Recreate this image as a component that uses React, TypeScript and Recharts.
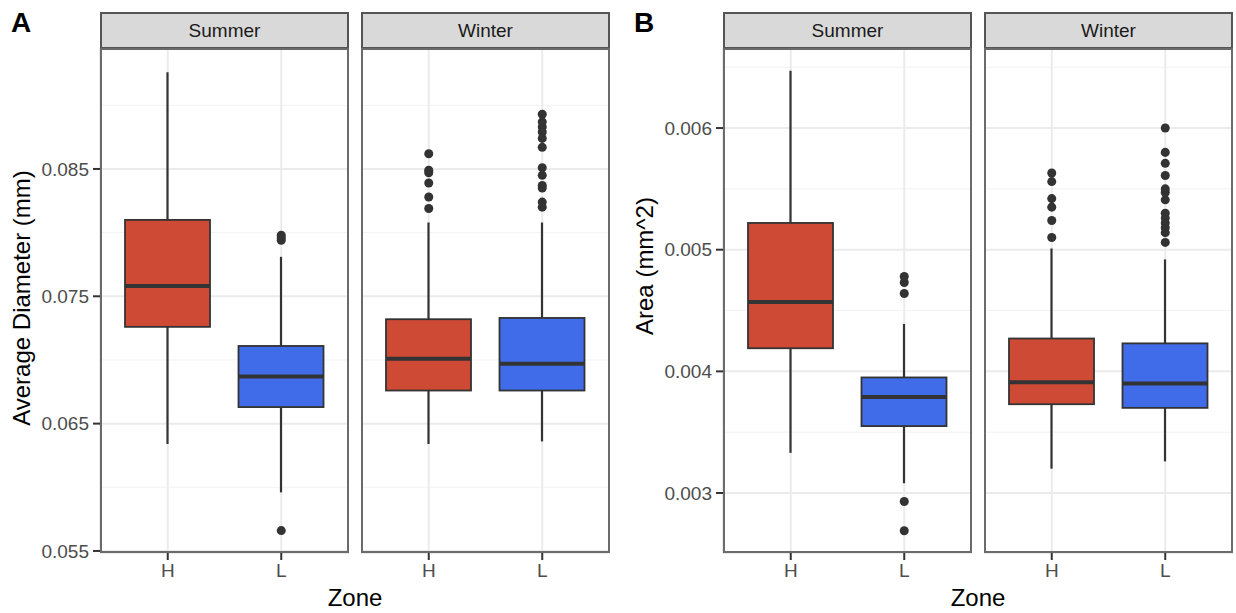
import React from 'react';
import { ComposedChart, Bar, Scatter, XAxis, YAxis, CartesianGrid } from 'recharts';

const zones = ['H', 'L'];
const zoneColors = ['#CE4A34', '#416CE9'];

// per zone: [lower whisker, Q1, median, Q3, upper whisker]
const diamSummer = [[0.0634, 0.0726, 0.0758, 0.0810, 0.0926], [0.0596, 0.0663, 0.0687, 0.0711, 0.0781]];
const diamWinter = [[0.0634, 0.0676, 0.0701, 0.0732, 0.0808], [0.0636, 0.0676, 0.0697, 0.0733, 0.0808]];
const diamSummerOut = [[], [0.0566, 0.0794, 0.0796, 0.0798]];
const diamWinterOut = [
  [0.0819, 0.0828, 0.0839, 0.0847, 0.0849, 0.0862],
  [0.0820, 0.0824, 0.0835, 0.0837, 0.0845, 0.0851, 0.0867, 0.0874, 0.0879, 0.0883, 0.0887, 0.0893],
];

const areaSummer = [[0.00333, 0.00419, 0.00457, 0.00522, 0.00647], [0.00308, 0.00355, 0.00379, 0.00395, 0.00439]];
const areaWinter = [[0.00320, 0.00373, 0.00391, 0.00427, 0.00501], [0.00326, 0.00370, 0.00390, 0.00423, 0.00492]];
const areaSummerOut = [[], [0.00269, 0.00293, 0.00464, 0.00473, 0.00478]];
const areaWinterOut = [
  [0.00510, 0.00524, 0.00535, 0.00542, 0.00556, 0.00563],
  [0.00506, 0.00514, 0.00518, 0.00522, 0.00526, 0.00530, 0.00541, 0.00547, 0.00550, 0.00561, 0.00571, 0.00580, 0.00600],
];

const diamTicks = [0.055, 0.065, 0.075, 0.085];
const diamMinor = [0.06, 0.07, 0.08, 0.09];
const areaTicks = [0.003, 0.004, 0.005, 0.006];
const areaMinor = [0.0035, 0.0045, 0.0055, 0.0065];

const FONT = '"Liberation Sans", Arial, Helvetica, sans-serif';
const PW = 249; // panel width
const PH = 505; // panel height
const PTOP = 48;
const YW = 60;

const BoxShape = (props: any) => {
  const { x, y, width, height, payload } = props;
  if (x == null || y == null) return null;
  const top = Math.min(y, y + height);
  const h = Math.abs(height);
  const k = h / (payload.q3 - payload.q1);
  const py = (v: number) => top + (payload.q3 - v) * k;
  const cx = x + width / 2;
  const fill = zoneColors[zones.indexOf(payload.zone)];
  return (
    <g>
      <line x1={cx} x2={cx} y1={py(payload.hi)} y2={top} stroke="#333" strokeWidth={2.2} />
      <line x1={cx} x2={cx} y1={top + h} y2={py(payload.lo)} stroke="#333" strokeWidth={2.2} />
      <rect x={x} y={top} width={width} height={h} fill={fill} stroke="#333" strokeWidth={1.8} />
      <line x1={x} x2={x + width} y1={py(payload.med)} y2={py(payload.med)} stroke="#333" strokeWidth={4} />
    </g>
  );
};

type FacetProps = {
  left: number;
  season: string;
  stats: number[][];
  outliers: number[][];
  domain: [number, number];
  ticks: number[];
  minor: number[];
  showY: boolean;
};

function Facet({ left, season, stats, outliers, domain, ticks, minor, showY }: FacetProps) {
  const data = zones.map((z, i) => ({
    zone: z,
    lo: stats[i][0],
    q1: stats[i][1],
    med: stats[i][2],
    q3: stats[i][3],
    hi: stats[i][4],
  }));
  const pts = zones.flatMap((z, i) => outliers[i].map((v) => ({ zone: z, v })));
  const yw = showY ? YW : 0;
  return (
    <>
      <div
        style={{
          position: 'absolute', left, top: 12, width: PW, height: 37, boxSizing: 'border-box',
          background: '#d9d9d9', border: '2px solid #555', display: 'flex', alignItems: 'center',
          justifyContent: 'center', fontSize: 19, color: '#1a1a1a', fontFamily: FONT,
        }}
      >
        {season}
      </div>
      <div style={{ position: 'absolute', left: left - yw, top: PTOP }}>
        <ComposedChart width={PW + yw} height={PH + 45} data={data} margin={{ top: 0, right: 0, bottom: 0, left: 0 }}>
          <CartesianGrid stroke="#f2f2f2" strokeWidth={1} vertical={false} horizontalValues={minor} />
          <CartesianGrid stroke="#ebebeb" strokeWidth={2} />
          <XAxis
            dataKey="zone"
            allowDuplicatedCategory={false}
            padding={{ left: 11, right: 11 }}
            height={45}
            axisLine={false}
            tickSize={7}
            tickMargin={4}
            tickLine={{ stroke: '#333', strokeWidth: 2 }}
            tick={{ fontSize: 19, fill: '#4d4d4d', fontFamily: FONT }}
            interval={0}
          />
          <YAxis
            type="number"
            hide={!showY}
            width={yw}
            domain={domain}
            ticks={ticks}
            allowDataOverflow
            interval={0}
            axisLine={false}
            tickSize={7}
            tickMargin={4}
            tickLine={{ stroke: '#333', strokeWidth: 2 }}
            tick={{ fontSize: 19, fill: '#4d4d4d', fontFamily: FONT }}
            tickFormatter={(v: number) => v.toFixed(3)}
          />
          <Bar dataKey={(d: any) => [d.q1, d.q3]} barSize={85} shape={BoxShape} isAnimationActive={false} />
          <Scatter data={pts} dataKey="v" fill="#333" isAnimationActive={false} />
        </ComposedChart>
      </div>
      <div
        style={{
          position: 'absolute', left, top: PTOP, width: PW, height: PH, boxSizing: 'border-box',
          border: '2px solid #6b6b6b', pointerEvents: 'none',
        }}
      />
    </>
  );
}

const diamDomain: [number, number] = [0.05484, 0.0945];
const areaDomain: [number, number] = [0.002507, 0.006658];

export default function App() {
  const title = (text: string, cx: number, cy: number, rotate: boolean) => (
    <div
      style={{
        position: 'absolute', left: cx, top: cy, whiteSpace: 'nowrap', fontSize: 24, color: '#000',
        fontFamily: FONT, lineHeight: '24px',
        transform: rotate ? 'translate(-50%, -50%) rotate(-90deg)' : 'translate(-50%, -50%)',
      }}
    >
      {text}
    </div>
  );
  const tag = (text: string, x: number) => (
    <div style={{ position: 'absolute', left: x, top: 9, fontSize: 28, fontWeight: 'bold', fontFamily: FONT, lineHeight: '28px' }}>
      {text}
    </div>
  );
  return (
    <div style={{ position: 'absolute', left: 0, top: 0, width: 1236, height: 613, background: '#fff', overflow: 'hidden' }}>
      {tag('A', 11)}
      {tag('B', 634)}
      <Facet left={100} season="Summer" stats={diamSummer} outliers={diamSummerOut} domain={diamDomain} ticks={diamTicks} minor={diamMinor} showY />
      <Facet left={361} season="Winter" stats={diamWinter} outliers={diamWinterOut} domain={diamDomain} ticks={diamTicks} minor={diamMinor} showY={false} />
      <Facet left={723} season="Summer" stats={areaSummer} outliers={areaSummerOut} domain={areaDomain} ticks={areaTicks} minor={areaMinor} showY />
      <Facet left={984} season="Winter" stats={areaWinter} outliers={areaWinterOut} domain={areaDomain} ticks={areaTicks} minor={areaMinor} showY={false} />
      {title('Average Diameter (mm)', 22, 298, true)}
      {title('Area (mm^2)', 645, 266, true)}
      {title('Zone', 355, 598, false)}
      {title('Zone', 978, 598, false)}
    </div>
  );
}
